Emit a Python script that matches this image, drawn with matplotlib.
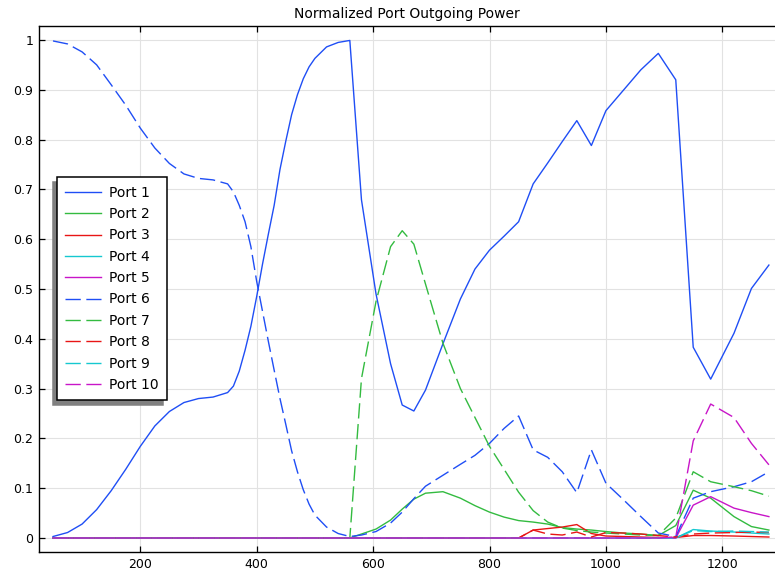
import matplotlib

matplotlib.use("Agg")
import matplotlib.pyplot as plt

# Sweep parameter: fine sampling up to 560, coarser afterwards.
X_LEFT = [50, 75, 100, 125, 150, 175, 200, 225, 250, 275, 300, 325, 350, 360, 370,
          380, 390, 400, 410, 420, 430, 440, 450, 460, 470, 480, 490, 500, 520, 540, 560]
X_RIGHT = [580, 605, 630, 650, 670, 690, 720, 750, 775, 800, 825, 850, 875, 900,
           925, 950, 975, 1000, 1030, 1060, 1090, 1120, 1150, 1180, 1220, 1250, 1280]
x_values = X_LEFT + X_RIGHT

ZERO_LEFT = [0.0] * len(X_LEFT)

port_1 = [0.003, 0.011, 0.028, 0.057, 0.095, 0.138, 0.184, 0.225, 0.254, 0.272, 0.280,
          0.283, 0.292, 0.305, 0.335, 0.377, 0.425, 0.485, 0.550, 0.610, 0.668, 0.740,
          0.797, 0.850, 0.890, 0.922, 0.946, 0.963, 0.986, 0.995, 0.999,
          0.679, 0.490, 0.350, 0.267, 0.255, 0.297, 0.390, 0.480, 0.540, 0.578, 0.606,
          0.635, 0.711, 0.753, 0.796, 0.838, 0.788, 0.858, 0.899, 0.940, 0.973, 0.920,
          0.383, 0.319, 0.411, 0.501, 0.548]
port_2 = ZERO_LEFT + [0.008, 0.018, 0.036, 0.058, 0.078, 0.090, 0.093, 0.080, 0.065,
                      0.052, 0.042, 0.035, 0.032, 0.028, 0.021, 0.018, 0.016, 0.013,
                      0.010, 0.008, 0.005, 0.025, 0.096, 0.080, 0.043, 0.023, 0.016]
port_3 = ZERO_LEFT + [0, 0, 0, 0, 0, 0, 0, 0, 0, 0, 0, 0, 0.016, 0.019, 0.022, 0.027,
                      0.009, 0.004, 0.003, 0.002, 0.001, 0.001, 0.005, 0.005, 0.004,
                      0.003, 0.002]
port_4 = ZERO_LEFT + [0, 0, 0, 0, 0, 0, 0, 0, 0, 0, 0, 0, 0, 0, 0, 0, 0, 0, 0, 0, 0, 0,
                      0.017, 0.014, 0.012, 0.010, 0.008]
port_5 = ZERO_LEFT + [0, 0, 0, 0, 0, 0, 0, 0, 0, 0, 0, 0, 0, 0, 0, 0, 0, 0, 0, 0, 0, 0,
                      0.066, 0.083, 0.060, 0.051, 0.043]
port_6 = [0.998, 0.992, 0.976, 0.950, 0.910, 0.869, 0.823, 0.783, 0.752, 0.731, 0.722,
          0.719, 0.711, 0.695, 0.668, 0.635, 0.585, 0.515, 0.455, 0.395, 0.337, 0.280,
          0.228, 0.175, 0.133, 0.097, 0.068, 0.046, 0.022, 0.009, 0.003,
          0.006, 0.013, 0.030, 0.052, 0.079, 0.104, 0.126, 0.148, 0.166, 0.190, 0.220,
          0.245, 0.177, 0.162, 0.133, 0.091, 0.177, 0.110, 0.077, 0.043, 0.010, 0.003,
          0.080, 0.093, 0.103, 0.113, 0.133]
port_7 = ZERO_LEFT + [0.320, 0.475, 0.585, 0.617, 0.590, 0.510, 0.391, 0.300, 0.242,
                      0.184, 0.138, 0.092, 0.055, 0.032, 0.020, 0.015, 0.012, 0.010,
                      0.008, 0.006, 0.005, 0.040, 0.133, 0.113, 0.103, 0.095, 0.084]
port_8 = ZERO_LEFT + [0, 0, 0, 0, 0, 0, 0, 0, 0, 0, 0, 0, 0.016, 0.008, 0.006, 0.012,
                      0.002, 0.011, 0.010, 0.008, 0.005, 0.002, 0.008, 0.010, 0.011,
                      0.012, 0.011]
port_9 = ZERO_LEFT + [0, 0, 0, 0, 0, 0, 0, 0, 0, 0, 0, 0, 0, 0, 0, 0, 0, 0, 0, 0, 0, 0,
                      0.015, 0.013, 0.014, 0.013, 0.012]
port_10 = ZERO_LEFT + [0, 0, 0, 0, 0, 0, 0, 0, 0, 0, 0, 0, 0, 0, 0, 0, 0, 0, 0, 0, 0,
                       0.002, 0.195, 0.269, 0.242, 0.190, 0.147]

labels = ["Port 1", "Port 2", "Port 3", "Port 4", "Port 5",
          "Port 6", "Port 7", "Port 8", "Port 9", "Port 10"]
x_ticks = [200, 400, 600, 800, 1000, 1200]
y_ticks = [0, 0.1, 0.2, 0.3, 0.4, 0.5, 0.6, 0.7, 0.8, 0.9, 1]

series = [port_1, port_2, port_3, port_4, port_5, port_6, port_7, port_8, port_9, port_10]
colors = ["#1f4ef5", "#33bb40", "#e81515", "#15c8d0", "#c815c8"] * 2

fig = plt.figure(figsize=(7.75, 5.79), dpi=100)
# the plot runs up to the right border of the image (no right frame visible)
ax = fig.add_axes([0.0499, 0.0461, 0.9501, 0.909])

for i, (values, label, color) in enumerate(zip(series, labels, colors)):
    style = {"dashes": (11, 4)} if i >= 5 else {}
    ax.plot(x_values, values, color=color, lw=1.0, label=label, **style)

ax.set_xlim(25.4, 1290.5)
ax.set_ylim(-0.0287, 1.028)
ax.set_xticks(x_ticks)
ax.set_yticks(y_ticks)
ax.set_yticklabels([f"{v:g}" for v in y_ticks])
ax.tick_params(direction="in", length=4.3, width=0.9, top=True, right=False,
               labelsize=9, pad=4)
ax.grid(color="#e2e2e2", lw=0.8)
ax.set_axisbelow(True)
for spine in ax.spines.values():
    spine.set_linewidth(1.0)
ax.spines["right"].set_visible(False)
ax.set_title("Normalized Port Outgoing Power", fontsize=10, pad=6)

leg = ax.legend(loc="upper left", bbox_to_anchor=(0.0243, 0.7125), borderaxespad=0,
                fontsize=10, handlelength=2.6, handletextpad=0.55, borderpad=0.6,
                labelspacing=0.53, fancybox=False, framealpha=1, edgecolor="black",
                shadow={"ox": -2.9, "oy": -3.2, "facecolor": "0.5",
                        "edgecolor": "0.5", "alpha": 1})
leg.get_frame().set_linewidth(1.1)

fig.savefig("out.png", dpi=100)
